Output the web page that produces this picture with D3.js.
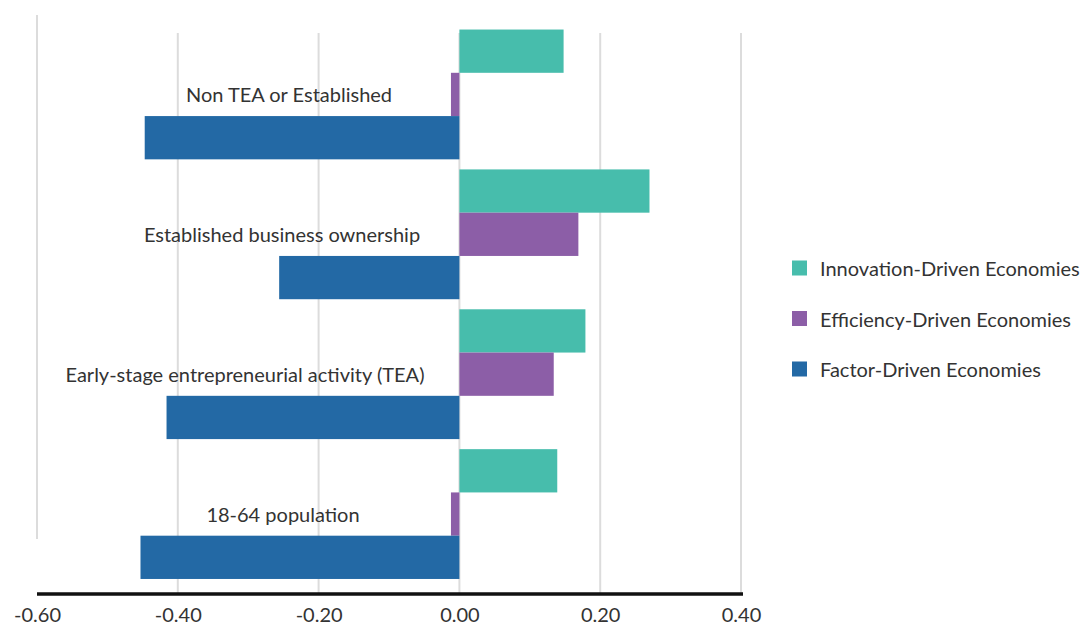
<!DOCTYPE html>
<html>
<head>
<meta charset="utf-8">
<script src="https://cdn.jsdelivr.net/npm/d3@7"></script>
<style>
  html, body { margin: 0; padding: 0; background: #fff; }
  svg { display: block; }
  text { font-family: Lato, "Open Sans", sans-serif; fill: #333; }
</style>
</head>
<body>
<svg id="chart" width="1083" height="627"></svg>
<script>
// Categories, top to bottom
const categories = [
  "Non TEA or Established",
  "Established business ownership",
  "Early-stage entrepreneurial activity (TEA)",
  "18-64 population"
];

// Series (drawn top to bottom inside each category)
const seriesNames = [
  "Innovation-Driven Economies",
  "Efficiency-Driven Economies",
  "Factor-Driven Economies"
];
const innovationValues = [0.148, 0.270, 0.179, 0.139];
const efficiencyValues = [-0.012, 0.169, 0.134, -0.012];
const factorValues     = [-0.447, -0.256, -0.416, -0.453];

const tickValues = [-0.6, -0.4, -0.2, 0, 0.2, 0.4];
const colors = ["#47bdac", "#8c5ea7", "#2369a5"];

// Horizontal centre of each category label
const labelCenterX = [289, 282, 245, 283];

const seriesValues = [innovationValues, efficiencyValues, factorValues];

const svg = d3.select("#chart");

const x = d3.scaleLinear().domain([-0.6, 0.4]).range([37, 741]);

const y = d3.scaleBand()
  .domain(categories)
  .range([24.5, 584])
  .paddingInner(0.072)
  .paddingOuter(0.036);

const ySub = d3.scaleBand()
  .domain(seriesNames)
  .range([0, y.bandwidth()]);

// Gridlines: the leftmost one runs higher and stops short of the axis
svg.append("g").selectAll("line")
  .data(tickValues)
  .join("line")
  .attr("x1", d => x(d)).attr("x2", d => x(d))
  .attr("y1", (d, i) => i === 0 ? 15 : 33)
  .attr("y2", (d, i) => i === 0 ? 539 : 593)
  .attr("stroke", "#dcdcdc")
  .attr("stroke-width", 2);

// Bars
const groups = svg.append("g").selectAll("g")
  .data(categories)
  .join("g")
  .attr("transform", d => `translate(0,${y(d)})`);

groups.selectAll("rect")
  .data((c, ci) => seriesNames.map((s, si) => ({ s, si, v: seriesValues[si][ci] })))
  .join("rect")
  .attr("x", d => x(Math.min(0, d.v)))
  .attr("width", d => Math.abs(x(d.v) - x(0)))
  .attr("y", d => ySub(d.s))
  .attr("height", ySub.bandwidth())
  .attr("fill", d => colors[d.si]);

// Category labels, centred on the middle bar of each group
svg.append("g").selectAll("text")
  .data(categories)
  .join("text")
  .attr("x", (d, i) => labelCenterX[i])
  .attr("y", d => y(d) + ySub(seriesNames[1]) + ySub.bandwidth() / 2)
  .attr("text-anchor", "middle")
  .attr("dominant-baseline", "central")
  .style("font-size", "20px")
  .text(d => d);

// X axis (plain hyphen for negative numbers)
const fmt = d3.format(".2f");
const axis = svg.append("g")
  .attr("transform", "translate(0,594)")
  .call(d3.axisBottom(x)
    .tickValues(tickValues)
    .tickFormat(d => fmt(d).replace("\u2212", "-"))
    .tickSize(0)
    .tickPadding(14));
axis.select(".domain")
  .attr("d", `M${x(-0.6)},0H${x(0.4) + 2}`)
  .attr("stroke", "#111")
  .attr("stroke-width", 3.5);
axis.selectAll("text")
  .style("font-family", "Lato, 'Open Sans', sans-serif")
  .style("font-size", "20px")
  .attr("fill", "#333");

// Legend
const legend = svg.append("g").selectAll("g")
  .data(seriesNames)
  .join("g")
  .attr("transform", (d, i) => `translate(792,${268 + i * 50.5})`);
legend.append("rect")
  .attr("x", 0).attr("y", -7.5)
  .attr("width", 15).attr("height", 15)
  .attr("fill", (d, i) => colors[i]);
legend.append("text")
  .attr("x", 28).attr("y", 0)
  .attr("dominant-baseline", "central")
  .style("font-size", "20px")
  .text(d => d);
</script>
</body>
</html>
